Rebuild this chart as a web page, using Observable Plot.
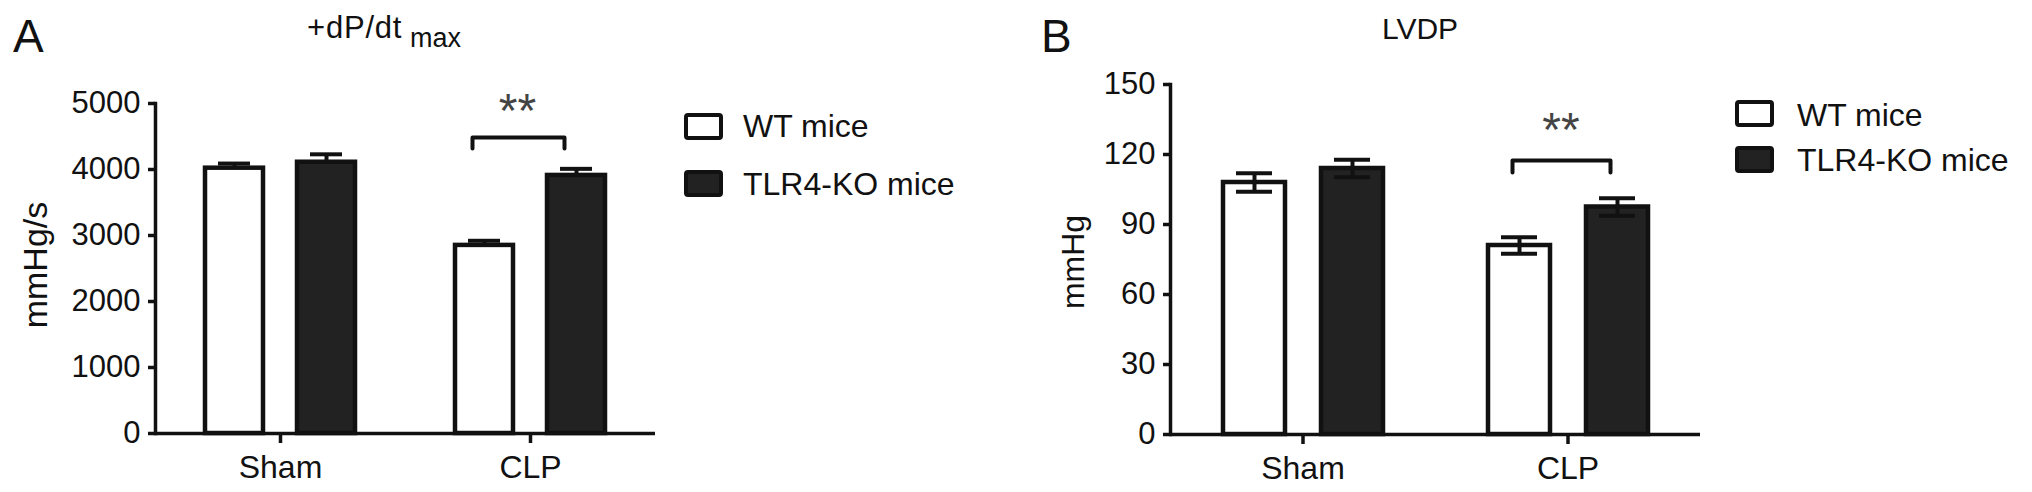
<!DOCTYPE html>
<html><head><meta charset="utf-8">
<script src="https://cdn.jsdelivr.net/npm/d3@7"></script>
<script src="https://cdn.jsdelivr.net/npm/@observablehq/plot@0.6"></script>
<style>
body{margin:0;background:#fff;}
#wrap{position:relative;width:2032px;height:492px;overflow:hidden;font-family:"Liberation Sans",Arial,Helvetica,sans-serif;color:#111;}
.abs{position:absolute;white-space:nowrap;line-height:1;}
.box{position:absolute;box-sizing:border-box;border:4px solid #111;border-radius:4px;}
.panel{position:absolute;top:0;}
</style></head><body><div id="wrap"></div>
<script>
// ---- data ----
const groups = ["Sham", "CLP"];
const seriesNames = ["WT mice", "TLR4-KO mice"];
const seriesFill = ["#ffffff", "#222222"];

const dpdtWT = [4020, 2850];
const dpdtWTErr = [70, 70];
const dpdtKO = [4110, 3910];
const dpdtKOErr = [120, 100];
const dpdtTicks = [0, 1000, 2000, 3000, 4000, 5000];

const lvdpWT = [108, 81];
const lvdpWTErr = [4, 3.5];
const lvdpKO = [114, 97.5];
const lvdpKOErr = [3.7, 3.8];
const lvdpTicks = [0, 30, 60, 90, 120, 150];

// significance annotations: group, bracket level, leg end, star level
const dpdtSig = {group: "CLP", top: 4485, leg: 4320, star: 5060, label: "**"};
const lvdpSig = {group: "CLP", top: 117.4, leg: 112.3, star: 135.4, label: "**"};

function rowsOf(wt, wtErr, ko, koErr) {
  const rows = [];
  groups.forEach((g, i) => {
    rows.push({group: g, series: seriesNames[0], value: wt[i], err: wtErr[i]});
    rows.push({group: g, series: seriesNames[1], value: ko[i], err: koErr[i]});
  });
  return rows;
}

const FONT = '"Liberation Sans", Arial, Helvetica, sans-serif';

function panel(cfg) {
  const rows = cfg.rows;
  const sig = cfg.sig;
  const bracket = [
    {group: sig.group, series: seriesNames[0], y: sig.leg},
    {group: sig.group, series: seriesNames[0], y: sig.top},
    {group: sig.group, series: seriesNames[1], y: sig.top},
    {group: sig.group, series: seriesNames[1], y: sig.leg}
  ];
  const errMarks = [
    Plot.ruleX(rows, {fx: "group", x: "series", y1: d => d.value - d.err, y2: d => d.value + d.err, stroke: "#111", strokeWidth: 4}),
    Plot.tickY(rows, {fx: "group", x: "series", y: d => d.value + d.err, stroke: "#111", strokeWidth: 4, insetLeft: 13, insetRight: 13}),
    Plot.tickY(rows, {fx: "group", x: "series", y: d => d.value - d.err, stroke: "#111", strokeWidth: 4, insetLeft: 13, insetRight: 13})
  ];
  const bars = Plot.barY(rows, {fx: "group", x: "series", y: "value", fill: "series", stroke: "#111", strokeWidth: 4.5});
  return Plot.plot({
    width: cfg.width, height: 492,
    marginLeft: cfg.marginLeft, marginRight: cfg.marginRight,
    marginTop: cfg.marginTop, marginBottom: cfg.marginBottom,
    style: {fontFamily: FONT, fontSize: "31px", color: "#111", background: "transparent", overflow: "visible"},
    fx: {domain: groups, padding: 0, label: null},
    x: {domain: seriesNames, paddingInner: 0.37, paddingOuter: 0.53, axis: null},
    y: {domain: cfg.yDomain},
    color: {domain: seriesNames, range: seriesFill},
    marks: [
      ...(cfg.errorsBehind ? errMarks : []),
      bars,
      ...(cfg.errorsBehind ? [] : errMarks),
      Plot.ruleY([0], {stroke: "#111", strokeWidth: 3.5}),
      Plot.frame({anchor: "left", facet: "super", stroke: "#111", strokeWidth: 3.5}),
      Plot.axisY({ticks: cfg.ticks, tickFormat: d => String(d), tickSize: 7, tickPadding: 8, fontSize: 31, strokeWidth: 3.5, label: null}),
      Plot.axisFx({anchor: "bottom", tickSize: 10, tickPadding: 12, fontSize: 32, strokeWidth: 3.5, label: null}),
      Plot.line(bracket, {fx: "group", x: "series", y: "y", stroke: "#111", strokeWidth: 4, dx: cfg.bracketDx, strokeLinejoin: "round", strokeLinecap: "round"}),
      Plot.text([sig], {fx: "group", y: "star", text: "label", frameAnchor: "middle", dx: cfg.starDx, dy: 12, fontSize: 48, fill: "#444"})
    ]
  });
}

const wrap = document.getElementById("wrap");

const plotA = panel({
  rows: rowsOf(dpdtWT, dpdtWTErr, dpdtKO, dpdtKOErr), sig: dpdtSig,
  width: 680, marginLeft: 154, marginRight: 25, marginTop: 103, marginBottom: 59,
  yDomain: [0, 5000], ticks: dpdtTicks, errorsBehind: true, bracketDx: -12, starDx: -13
});
plotA.classList.add("panel"); plotA.style.left = "0px";
wrap.appendChild(plotA);

const plotB = panel({
  rows: rowsOf(lvdpWT, lvdpWTErr, lvdpKO, lvdpKOErr), sig: lvdpSig,
  width: 720, marginLeft: 170, marginRight: 20, marginTop: 84, marginBottom: 58,
  yDomain: [0, 150], ticks: lvdpTicks, errorsBehind: false, bracketDx: -7, starDx: -7
});
plotB.classList.add("panel"); plotB.style.left = "1000px";
wrap.appendChild(plotB);

// ---- text & legends ----
function addText(txt, left, top, size, extra) {
  const d = document.createElement("div");
  d.className = "abs";
  d.textContent = txt;
  d.style.left = left + "px";
  d.style.top = top + "px";
  d.style.fontSize = size + "px";
  if (extra) Object.assign(d.style, extra);
  wrap.appendChild(d);
  return d;
}
function addYLabel(txt, baselineX, centerY, size) {
  return addText(txt, 0, 0, size, {transformOrigin: "0 0",
    transform: `translate(${baselineX}px, ${centerY}px) rotate(-90deg) translate(-50%, -${0.8465 * size}px)`});
}
function addBox(left, top, w, h, fill) {
  const b = document.createElement("div");
  b.className = "box";
  Object.assign(b.style, {left: left + "px", top: top + "px", width: w + "px", height: h + "px", background: fill});
  wrap.appendChild(b);
}

// panel letters
addText("A", 13, 13, 46);
addText("B", 1041, 13, 46);

// titles
addText("+dP/dt", 307, 12, 31, {letterSpacing: "0.8px"});
addText("max", 410, 25, 27);
addText("LVDP", 1420, 14, 30, {transform: "translateX(-50%)"});

// axis titles
addYLabel("mmHg/s", 47, 265, 34);
addYLabel("mmHg", 1084, 262, 32);

// legends
function legend(x, textX, rowsY, boxTops) {
  seriesNames.forEach((s, i) => {
    addBox(x, boxTops[i], 39, 27, seriesFill[i]);
    addText(s, textX, rowsY[i] - 15.5, 32);
  });
}
legend(684, 743, [125, 183.5], [113, 170]);
legend(1735, 1797, [114.5, 159.5], [100, 146]);
</script></body></html>
